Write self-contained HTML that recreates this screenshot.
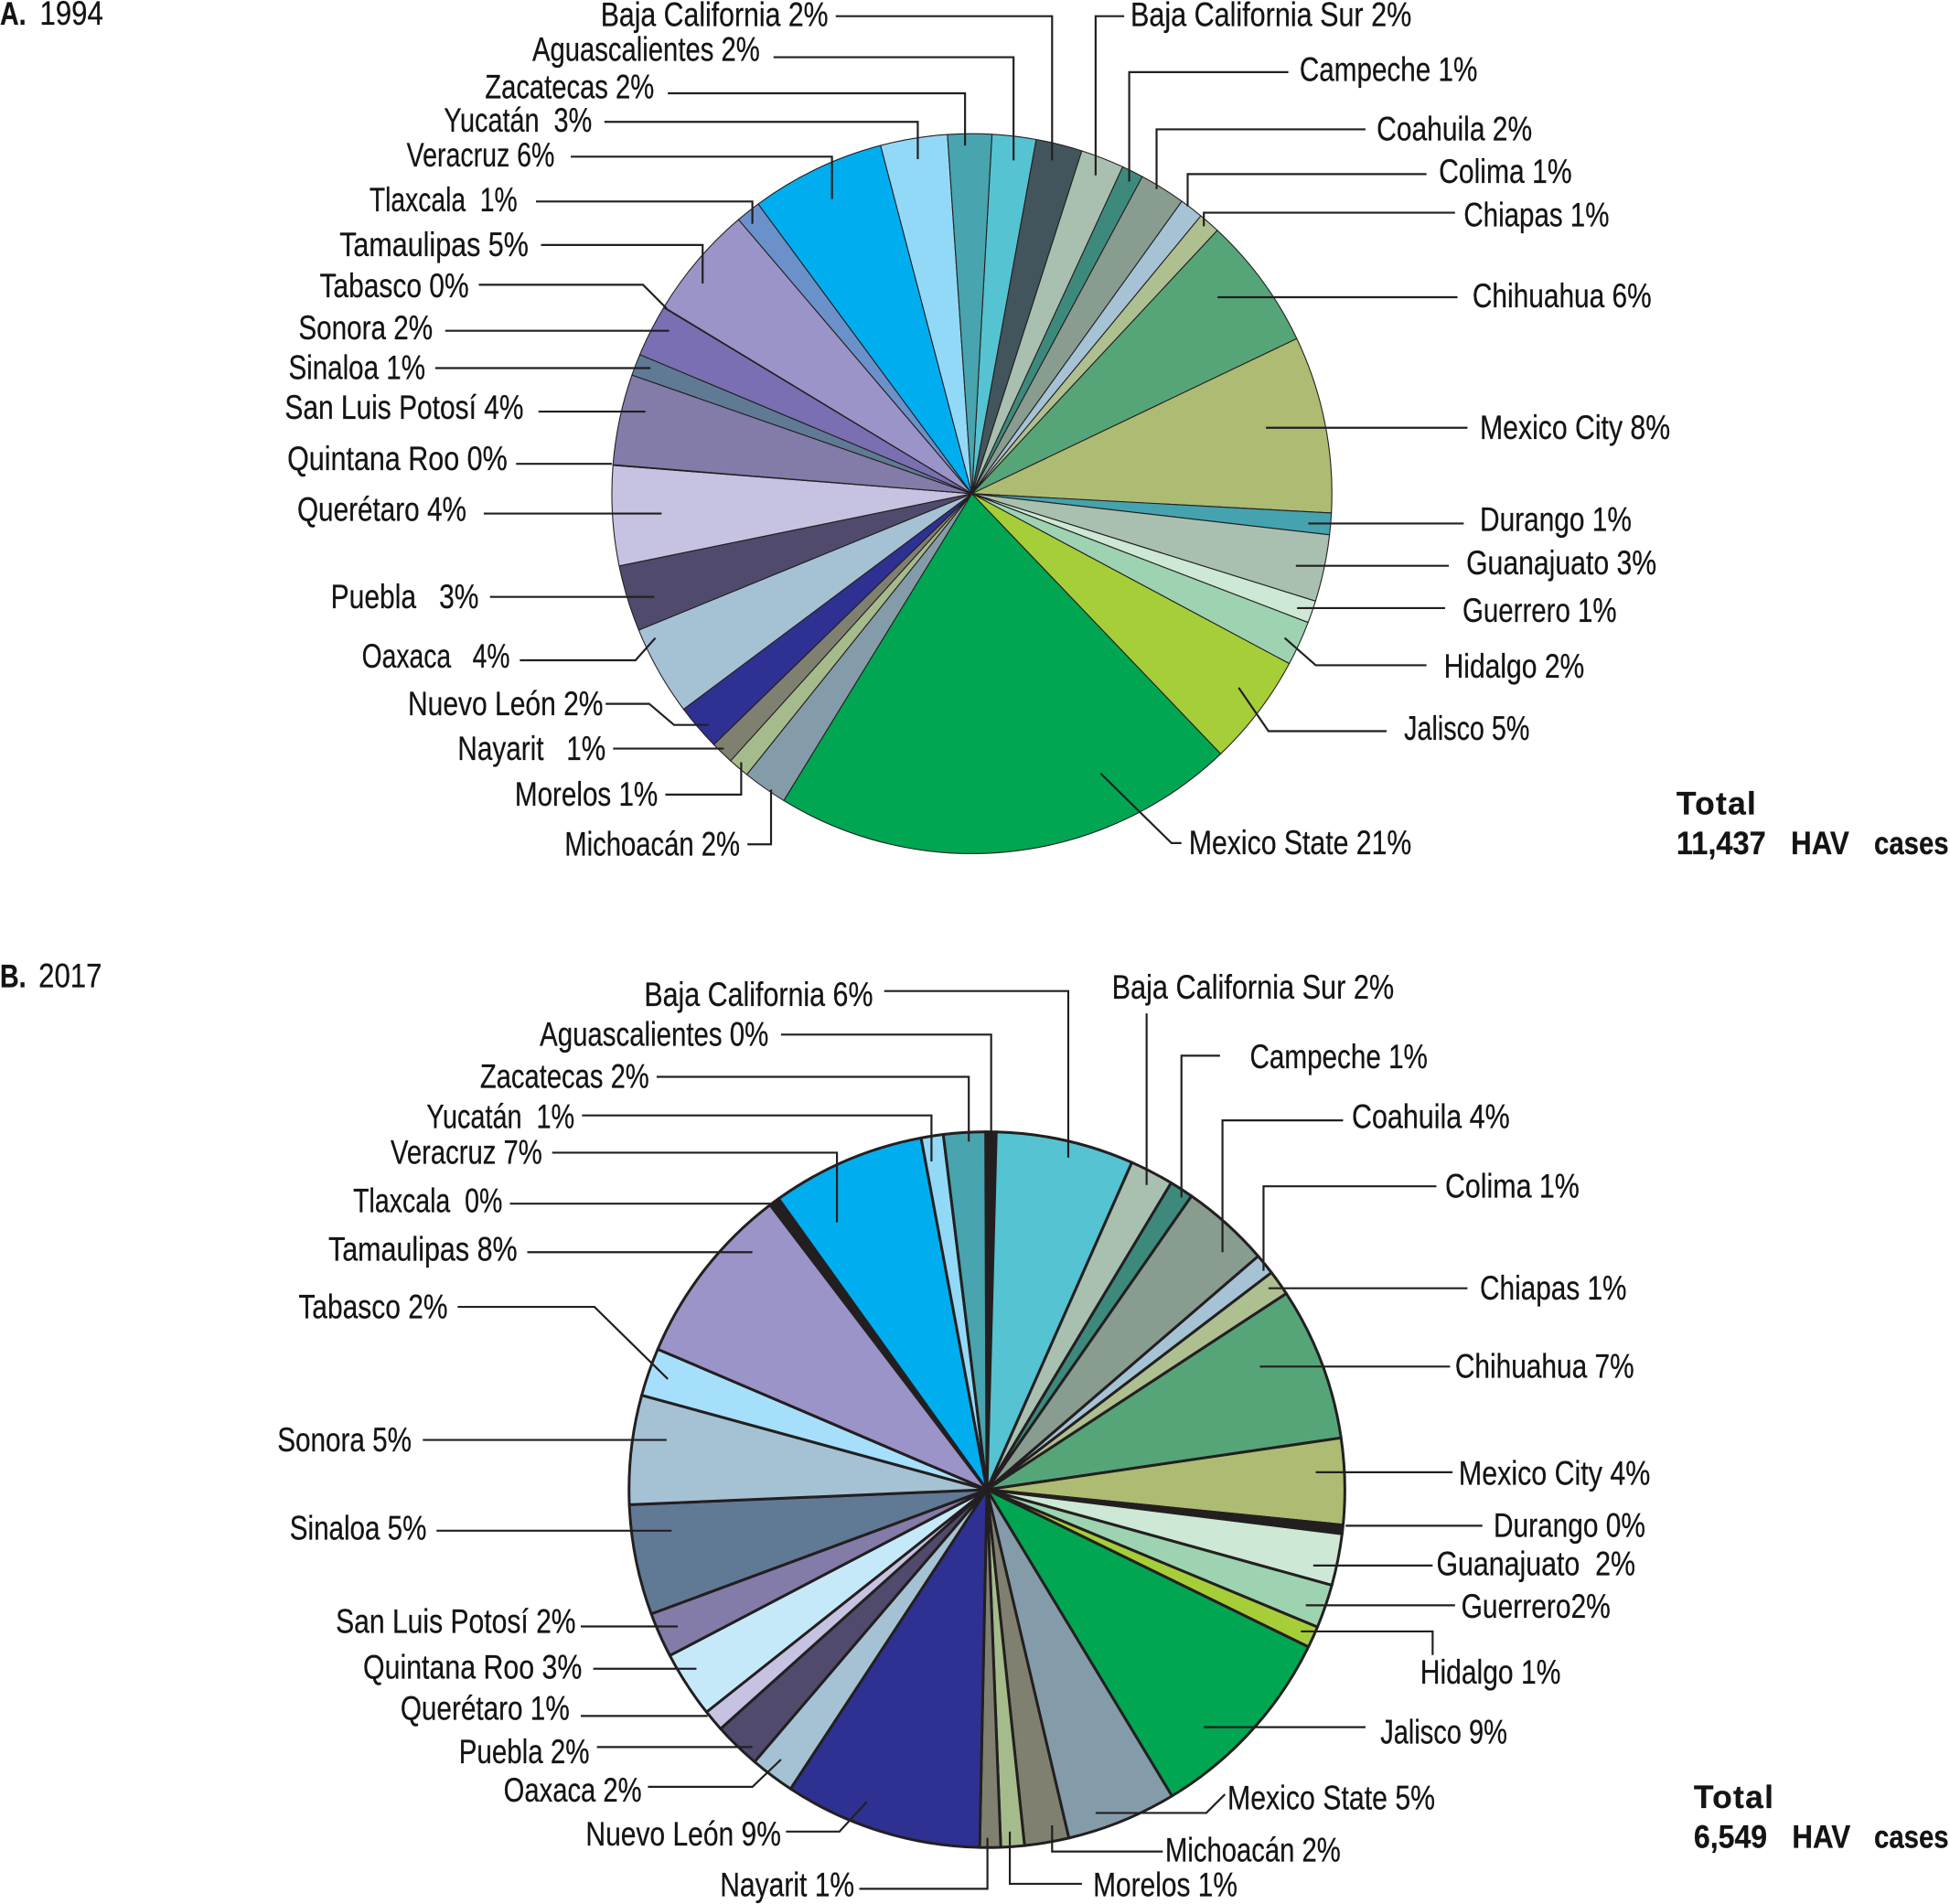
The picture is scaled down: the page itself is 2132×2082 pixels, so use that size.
<!DOCTYPE html>
<html lang="en">
<head>
<meta charset="utf-8">
<title>HAV cases by state, 1994 and 2017</title>
<style>
html,body{margin:0;padding:0;background:#fff;}
svg{display:block;}
text{font-family:"Liberation Sans",sans-serif;font-size:27px;fill:#161314;stroke:#161314;stroke-width:.2;}
.b{font-weight:bold;font-size:26px;}
polyline{fill:none;stroke:#231f20;stroke-width:1.6;}
</style>
</head>
<body>
<svg xmlns="http://www.w3.org/2000/svg" width="2132" height="2082" viewBox="0 0 1568 1531.2">
<g id="pie-a"></g>
<g id="pie-b"></g>

<g>
<polyline points="672,13 846,13 846,129"/>
<polyline points="622,46 815,46 815,129"/>
<polyline points="537,75 776,75 776,117"/>
<polyline points="486,98 738,98 738,128"/>
<polyline points="459,126 669,126 669,160"/>
<polyline points="431,162 605,162 605,180"/>
<polyline points="435,197 565,197 565,228"/>
<polyline points="385,229 517,229 536,248"/>
<polyline points="358,266 538,266"/>
<polyline points="350,296 523,296"/>
<polyline points="433,331 519,331"/>
<polyline points="415,373 492,373"/>
<polyline points="389,413 532,413"/>
<polyline points="394,480 526,480"/>
<polyline points="418,531 511,531 527,513"/>
<polyline points="487,566 522,566 542,583 570,583"/>
<polyline points="493,602 582,602"/>
<polyline points="535,639 596,639 596,613"/>
<polyline points="601,679 620,679 620,635"/>
<polyline points="885,622 942,678 950,678"/>
<polyline points="996,553 1020,588 1115,588"/>
<polyline points="1033,513 1058,535 1147,535"/>
<polyline points="1162,489 1043,489"/>
<polyline points="1165,455 1042,455"/>
<polyline points="1177,421 1052,421"/>
<polyline points="1180,344 1018,344"/>
<polyline points="1172,239 979,239"/>
<polyline points="1170,171 968,171 968,182"/>
<polyline points="1147,140 955,140 955,166"/>
<polyline points="1098,104 930,104 930,152"/>
<polyline points="1036,58 908,58 908,146"/>
<polyline points="904,13 881,13 881,141"/>
</g>

<g>
<polyline points="711,797 859,797 859,931"/>
<polyline points="628,832 797,832 797,921"/>
<polyline points="528,866 779,866 779,918"/>
<polyline points="468,897 749,897 749,934"/>
<polyline points="444,927 673,927 673,983"/>
<polyline points="410,968 620,968"/>
<polyline points="424,1007 605,1007"/>
<polyline points="368,1051 478,1051 537,1109"/>
<polyline points="340,1158 536,1158"/>
<polyline points="351,1231 540,1231"/>
<polyline points="467,1308 545,1308"/>
<polyline points="477,1342 560,1342"/>
<polyline points="467,1380 569,1380"/>
<polyline points="480,1405 605,1405"/>
<polyline points="521,1437 605,1437 628,1415"/>
<polyline points="632,1473 675,1473 697,1449"/>
<polyline points="691,1519 794,1519 794,1478"/>
<polyline points="870,1515 812,1515 812,1473"/>
<polyline points="935,1489 846,1489 846,1468"/>
<polyline points="881,1458 970,1458 985,1443"/>
<polyline points="1098,1389 968,1389"/>
<polyline points="1046,1312 1152,1312 1152,1331"/>
<polyline points="1050,1291 1170,1291"/>
<polyline points="1056,1259 1152,1259"/>
<polyline points="1082,1227 1192,1227"/>
<polyline points="1168,1184 1058,1184"/>
<polyline points="1166,1099 1013,1099"/>
<polyline points="1180,1036 1020,1036"/>
<polyline points="1155,954 1016,954 1016,1022"/>
<polyline points="1080,901 983,901 983,1007"/>
<polyline points="981,849 950,849 950,963"/>
<polyline points="922,815 922,953"/>
</g>

<g>
<text class="b" x="0" y="20" textLength="21" lengthAdjust="spacingAndGlyphs">A.</text>
<text x="32" y="20" textLength="51" lengthAdjust="spacingAndGlyphs">1994</text>
<text x="483" y="21" textLength="183" lengthAdjust="spacingAndGlyphs">Baja California 2%</text>
<text x="428" y="49" textLength="183" lengthAdjust="spacingAndGlyphs">Aguascalientes 2%</text>
<text x="390" y="79" textLength="136" lengthAdjust="spacingAndGlyphs">Zacatecas 2%</text>
<text x="357" y="106" textLength="119" lengthAdjust="spacingAndGlyphs" xml:space="preserve">Yucatán  3%</text>
<text x="327" y="134" textLength="119" lengthAdjust="spacingAndGlyphs">Veracruz 6%</text>
<text x="297" y="170" textLength="119" lengthAdjust="spacingAndGlyphs" xml:space="preserve">Tlaxcala  1%</text>
<text x="273" y="206" textLength="152" lengthAdjust="spacingAndGlyphs">Tamaulipas 5%</text>
<text x="257" y="239" textLength="120" lengthAdjust="spacingAndGlyphs">Tabasco 0%</text>
<text x="240" y="273" textLength="108" lengthAdjust="spacingAndGlyphs">Sonora 2%</text>
<text x="232" y="305" textLength="110" lengthAdjust="spacingAndGlyphs">Sinaloa 1%</text>
<text x="229" y="337" textLength="192" lengthAdjust="spacingAndGlyphs">San Luis Potosí 4%</text>
<text x="231" y="378" textLength="177" lengthAdjust="spacingAndGlyphs">Quintana Roo 0%</text>
<text x="239" y="419" textLength="136" lengthAdjust="spacingAndGlyphs">Querétaro 4%</text>
<text x="266" y="489" textLength="119" lengthAdjust="spacingAndGlyphs" xml:space="preserve">Puebla   3%</text>
<text x="291" y="537" textLength="119" lengthAdjust="spacingAndGlyphs" xml:space="preserve">Oaxaca   4%</text>
<text x="328" y="575" textLength="157" lengthAdjust="spacingAndGlyphs">Nuevo León 2%</text>
<text x="368" y="611" textLength="119" lengthAdjust="spacingAndGlyphs" xml:space="preserve">Nayarit   1%</text>
<text x="414" y="648" textLength="115" lengthAdjust="spacingAndGlyphs">Morelos 1%</text>
<text x="454" y="688" textLength="141" lengthAdjust="spacingAndGlyphs">Michoacán 2%</text>
<text x="956" y="687" textLength="179" lengthAdjust="spacingAndGlyphs">Mexico State 21%</text>
<text x="1129" y="595" textLength="101" lengthAdjust="spacingAndGlyphs">Jalisco 5%</text>
<text x="1161" y="545" textLength="113" lengthAdjust="spacingAndGlyphs">Hidalgo 2%</text>
<text x="1176" y="500" textLength="124" lengthAdjust="spacingAndGlyphs">Guerrero 1%</text>
<text x="1179" y="462" textLength="153" lengthAdjust="spacingAndGlyphs">Guanajuato 3%</text>
<text x="1190" y="427" textLength="122" lengthAdjust="spacingAndGlyphs">Durango 1%</text>
<text x="1190" y="353" textLength="153" lengthAdjust="spacingAndGlyphs">Mexico City 8%</text>
<text x="1184" y="247" textLength="144" lengthAdjust="spacingAndGlyphs">Chihuahua 6%</text>
<text x="1177" y="182" textLength="117" lengthAdjust="spacingAndGlyphs">Chiapas 1%</text>
<text x="1157" y="147" textLength="107" lengthAdjust="spacingAndGlyphs">Colima 1%</text>
<text x="1107" y="113" textLength="125" lengthAdjust="spacingAndGlyphs">Coahuila 2%</text>
<text x="1045" y="65" textLength="143" lengthAdjust="spacingAndGlyphs">Campeche 1%</text>
<text x="909" y="21" textLength="226" lengthAdjust="spacingAndGlyphs">Baja California Sur 2%</text>
<text class="b" x="1348" y="655" textLength="64">Total</text>
<text class="b" x="1348" y="687" textLength="72" lengthAdjust="spacingAndGlyphs">11,437</text>
<text class="b" x="1440" y="687" textLength="47" lengthAdjust="spacingAndGlyphs">HAV</text>
<text class="b" x="1507" y="687" textLength="60" lengthAdjust="spacingAndGlyphs">cases</text>
</g>

<g>
<text class="b" x="0" y="794" textLength="21" lengthAdjust="spacingAndGlyphs">B.</text>
<text x="31" y="794" textLength="51" lengthAdjust="spacingAndGlyphs">2017</text>
<text x="518" y="809" textLength="184" lengthAdjust="spacingAndGlyphs">Baja California 6%</text>
<text x="434" y="841" textLength="184" lengthAdjust="spacingAndGlyphs">Aguascalientes 0%</text>
<text x="386" y="875" textLength="136" lengthAdjust="spacingAndGlyphs">Zacatecas 2%</text>
<text x="343" y="907" textLength="119" lengthAdjust="spacingAndGlyphs" xml:space="preserve">Yucatán  1%</text>
<text x="314" y="936" textLength="122" lengthAdjust="spacingAndGlyphs">Veracruz 7%</text>
<text x="284" y="975" textLength="120" lengthAdjust="spacingAndGlyphs" xml:space="preserve">Tlaxcala  0%</text>
<text x="264" y="1014" textLength="152" lengthAdjust="spacingAndGlyphs">Tamaulipas 8%</text>
<text x="240" y="1060" textLength="120" lengthAdjust="spacingAndGlyphs">Tabasco 2%</text>
<text x="223" y="1167" textLength="108" lengthAdjust="spacingAndGlyphs">Sonora 5%</text>
<text x="233" y="1238" textLength="110" lengthAdjust="spacingAndGlyphs">Sinaloa 5%</text>
<text x="270" y="1313" textLength="193" lengthAdjust="spacingAndGlyphs">San Luis Potosí 2%</text>
<text x="292" y="1350" textLength="176" lengthAdjust="spacingAndGlyphs">Quintana Roo 3%</text>
<text x="322" y="1383" textLength="136" lengthAdjust="spacingAndGlyphs">Querétaro 1%</text>
<text x="369" y="1418" textLength="105" lengthAdjust="spacingAndGlyphs">Puebla 2%</text>
<text x="405" y="1449" textLength="111" lengthAdjust="spacingAndGlyphs">Oaxaca 2%</text>
<text x="471" y="1484" textLength="157" lengthAdjust="spacingAndGlyphs">Nuevo León 9%</text>
<text x="579" y="1525" textLength="108" lengthAdjust="spacingAndGlyphs">Nayarit 1%</text>
<text x="879" y="1525" textLength="116" lengthAdjust="spacingAndGlyphs">Morelos 1%</text>
<text x="937" y="1497" textLength="141" lengthAdjust="spacingAndGlyphs">Michoacán 2%</text>
<text x="987" y="1455" textLength="167" lengthAdjust="spacingAndGlyphs">Mexico State 5%</text>
<text x="1110" y="1402" textLength="102" lengthAdjust="spacingAndGlyphs">Jalisco 9%</text>
<text x="1142" y="1354" textLength="113" lengthAdjust="spacingAndGlyphs">Hidalgo 1%</text>
<text x="1175" y="1301" textLength="120" lengthAdjust="spacingAndGlyphs">Guerrero2%</text>
<text x="1155" y="1267" textLength="160" lengthAdjust="spacingAndGlyphs" xml:space="preserve">Guanajuato  2%</text>
<text x="1201" y="1236" textLength="122" lengthAdjust="spacingAndGlyphs">Durango 0%</text>
<text x="1173" y="1194" textLength="154" lengthAdjust="spacingAndGlyphs">Mexico City 4%</text>
<text x="1170" y="1108" textLength="144" lengthAdjust="spacingAndGlyphs">Chihuahua 7%</text>
<text x="1190" y="1045" textLength="118" lengthAdjust="spacingAndGlyphs">Chiapas 1%</text>
<text x="1162" y="963" textLength="108" lengthAdjust="spacingAndGlyphs">Colima 1%</text>
<text x="1087" y="907" textLength="127" lengthAdjust="spacingAndGlyphs">Coahuila 4%</text>
<text x="1005" y="859" textLength="143" lengthAdjust="spacingAndGlyphs">Campeche 1%</text>
<text x="894" y="803" textLength="227" lengthAdjust="spacingAndGlyphs">Baja California Sur 2%</text>
<text class="b" x="1362" y="1454" textLength="64">Total</text>
<text class="b" x="1362" y="1486" textLength="59" lengthAdjust="spacingAndGlyphs">6,549</text>
<text class="b" x="1441" y="1486" textLength="47" lengthAdjust="spacingAndGlyphs">HAV</text>
<text class="b" x="1507" y="1486" textLength="60" lengthAdjust="spacingAndGlyphs">cases</text>
</g>
</svg>

<script>
const categories = ["aguascalientes","baja-california","baja-california-sur","campeche","coahuila","colima","chiapas","chihuahua","mexico-city","durango","guanajuato","guerrero","hidalgo","jalisco","mexico-state","michoacan","morelos","nayarit","nuevo-leon","oaxaca","puebla","queretaro","quintana-roo","san-luis-potosi","sinaloa","sonora","tabasco","tamaulipas","tlaxcala","veracruz","yucatan","zacatecas"];
const shares1994 = [1.97,2.08,1.94,0.97,2.06,1.06,0.97,5.97,7.94,0.97,3.0,1.0,2.0,5.03,20.89,2.0,0.94,1.03,2.06,4.03,2.97,4.47,0.03,4.06,0.97,2.33,0.03,5.1,1.11,6.03,3.0,1.97];
const shares2017 = [0.47,6.22,1.97,1.08,4.0,0.94,1.14,6.92,3.89,0.39,2.33,1.97,0.97,9.11,4.97,2.0,1.06,0.94,8.92,2.0,2.11,0.97,3.0,2.03,4.97,4.92,2.17,8.22,0.47,6.94,1.0,1.89];
const colors1994 = ["#55c3d1","#42545c","#a9c0b0","#3d8a7c","#889c90","#a6c3d5","#aebf90","#55a578","#aebb72","#44a3ae","#a9c0b0","#cde8d5","#9dd3b0","#a6ce39","#00a651","#849ca9","#a5bb8c","#808070","#2e3192","#a5c2d4","#504a6c","#c5c2e2","#c5c2e2","#837ba8","#607a96","#7a6fb2","#9b94c8","#9b94c8","#6b91ca","#00aeef","#92d9f8","#48a4ae"];
const colors2017 = ["#231f20","#55c3d1","#a9c0b0","#3d8a7c","#889c90","#a6c3d5","#aebf90","#55a578","#aebb72","#231f20","#cde8d5","#9dd3b0","#a6ce39","#00a651","#849ca9","#808070","#a5bb8c","#808070","#2e3192","#a5c2d4","#504a6c","#c5c2e2","#c6e9fa","#837ba8","#607a96","#a5c2d4","#a6dffb","#9b94c8","#231f20","#00aeef","#92d9f8","#48a4ae"];

const SVG_NS = "http://www.w3.org/2000/svg";

function drawPie(groupId, prefix, values, colors, cx, cy, r, startDeg, strokeW) {
  const group = document.getElementById(groupId);
  const total = values.reduce((a, b) => a + b, 0);
  const angleOf = cum => (startDeg + cum / total * 360) * Math.PI / 180;
  const px = a => cx + r * Math.sin(a);
  const py = a => cy - r * Math.cos(a);
  let cum = 0;
  values.forEach((v, i) => {
    const a0 = angleOf(cum);
    cum += v;
    const a1 = angleOf(cum);
    const large = (a1 - a0) > Math.PI ? 1 : 0;
    const slice = document.createElementNS(SVG_NS, "path");
    slice.setAttribute("d", "M" + cx + " " + cy + "L" + px(a0).toFixed(2) + " " + py(a0).toFixed(2) + "A" + r + " " + r + " 0 " + large + " 1 " + px(a1).toFixed(2) + " " + py(a1).toFixed(2) + "Z");
    slice.setAttribute("fill", colors[i]);
    slice.setAttribute("stroke", "#231f20");
    slice.setAttribute("stroke-width", strokeW);
    slice.setAttribute("stroke-linejoin", "round");
    
    
    group.appendChild(slice);
  });
}

drawPie("pie-a", "1994", shares1994, colors1994, 781.5, 397, 289.5, 3.2, 0.8);
drawPie("pie-b", "2017", shares2017, colors2017, 793.6, 1198, 287.8, -0.2, 2.2);
</script>
</body>
</html>
